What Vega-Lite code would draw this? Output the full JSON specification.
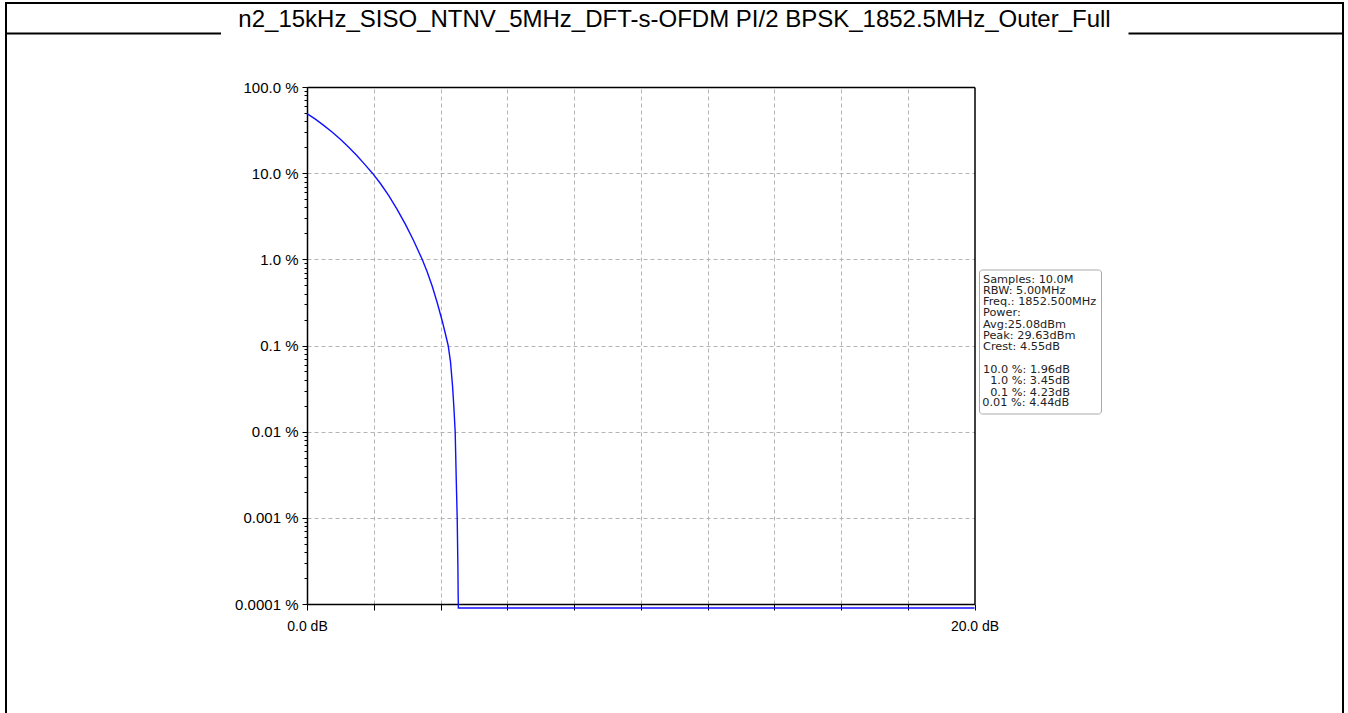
{
  "$schema": "https://vega.github.io/schema/vega-lite/v6.json",
  "background": "white",
  "autosize": {"type": "none"},
  "padding": {"left": 6, "top": 3, "right": 5, "bottom": -10},
  "width": 1337,
  "height": 720,
  "config": {
    "view": {"stroke": "black", "strokeWidth": 2},
    "font": "Liberation Sans",
    "axis": {"labelFont": "Liberation Sans", "labelColor": "black", "domainColor": "black", "tickColor": "black", "titleFont": "Liberation Sans"}
  },
  "title": {
    "text": "n2_15kHz_SISO_NTNV_5MHz_DFT-s-OFDM PI/2 BPSK_1852.5MHz_Outer_Full",
    "font": "Liberation Sans",
    "fontSize": 24,
    "fontWeight": "normal",
    "color": "black",
    "anchor": "middle",
    "orient": "top",
    "offset": 0,
    "dy": 47.5,
    "baseline": "alphabetic"
  },
  "datasets": {
    "ccdf": [
      {"i": 0, "db": 0.0, "pct": 49},
      {"i": 1, "db": 0.25, "pct": 42.3},
      {"i": 2, "db": 0.5, "pct": 35.9},
      {"i": 3, "db": 0.75, "pct": 30.0},
      {"i": 4, "db": 1.0, "pct": 24.7},
      {"i": 5, "db": 1.25, "pct": 19.95},
      {"i": 6, "db": 1.5, "pct": 15.9},
      {"i": 7, "db": 1.75, "pct": 12.4},
      {"i": 8, "db": 1.96, "pct": 10.0},
      {"i": 9, "db": 2.2, "pct": 7.59},
      {"i": 10, "db": 2.45, "pct": 5.48},
      {"i": 11, "db": 2.7, "pct": 3.8},
      {"i": 12, "db": 2.95, "pct": 2.54},
      {"i": 13, "db": 3.2, "pct": 1.63},
      {"i": 14, "db": 3.45, "pct": 1.0},
      {"i": 15, "db": 3.6, "pct": 0.719},
      {"i": 16, "db": 3.75, "pct": 0.49},
      {"i": 17, "db": 3.9, "pct": 0.316},
      {"i": 18, "db": 4.05, "pct": 0.194},
      {"i": 19, "db": 4.15, "pct": 0.135},
      {"i": 20, "db": 4.23, "pct": 0.1},
      {"i": 21, "db": 4.3, "pct": 0.0646},
      {"i": 22, "db": 4.36, "pct": 0.0342},
      {"i": 23, "db": 4.4, "pct": 0.0195},
      {"i": 24, "db": 4.44, "pct": 0.01},
      {"i": 25, "db": 4.47, "pct": 0.003},
      {"i": 26, "db": 4.5, "pct": 0.001},
      {"i": 27, "db": 4.52, "pct": 0.0003},
      {"i": 28, "db": 4.53, "pct": 0.00012},
      {"i": 29, "db": 4.535, "pct": 0.00009},
      {"i": 30, "db": 20.0, "pct": 0.00009}
    ],
    "info": [
      {"info": "0.01 %: 4.44dB"}
    ]
  },
  "resolve": {"scale": {"x": "independent"}, "axis": {"x": "independent", "y": "independent"}},
  "layer": [
    {
      "data": {"name": "ccdf"},
      "mark": {"type": "line", "opacity": 0},
      "encoding": {
        "x": {
          "field": "db", "type": "quantitative",
          "scale": {"domain": [0, 20], "range": [0, 214.5], "nice": false, "zero": false},
          "axis": {"orient": "top", "offset": -30, "grid": false, "ticks": false, "labels": false, "domain": true, "domainWidth": 2, "title": null}
        },
        "y": {
          "field": "pct", "type": "quantitative",
          "scale": {"type": "log", "domain": [0.0001, 100], "range": [601, 84], "nice": false},
          "axis": null
        }
      }
    },
    {
      "data": {"name": "ccdf"},
      "mark": {"type": "line", "opacity": 0},
      "encoding": {
        "x": {
          "field": "db", "type": "quantitative",
          "scale": {"domain": [0, 20], "range": [1122, 1337], "nice": false, "zero": false},
          "axis": {"orient": "top", "offset": -30, "grid": false, "ticks": false, "labels": false, "domain": true, "domainWidth": 2, "title": null}
        },
        "y": {
          "field": "pct", "type": "quantitative",
          "scale": {"type": "log", "domain": [0.0001, 100], "range": [601, 84], "nice": false},
          "axis": null
        }
      }
    },
    {
      "data": {"name": "ccdf"},
      "mark": {"type": "line", "opacity": 0},
      "encoding": {
        "x": {
          "field": "db", "type": "quantitative",
          "scale": {"domain": [0, 20], "range": [301, 968.5], "nice": false, "zero": false},
          "axis": {"orient": "top", "offset": -84, "values": [2, 4, 6, 8, 10, 12, 14, 16, 18], "grid": true, "gridColor": "#b4b4b4", "gridDash": [4, 3], "gridWidth": 1, "ticks": false, "labels": false, "domain": true, "domainWidth": 1.5, "title": null}
        },
        "y": {
          "field": "pct", "type": "quantitative",
          "scale": {"type": "log", "domain": [0.0001, 100], "range": [601, 84], "nice": false},
          "axis": {"orient": "right", "offset": -368.5, "grid": false, "ticks": false, "labels": false, "domain": true, "domainWidth": 1.5, "title": null}
        },
        "order": {"field": "i", "type": "quantitative"}
      }
    },
    {
      "data": {"name": "ccdf"},
      "mark": {"type": "line", "opacity": 0},
      "encoding": {
        "x": {
          "field": "db", "type": "quantitative",
          "scale": {"domain": [0, 20], "range": [301, 968.5], "nice": false, "zero": false},
          "axis": null
        },
        "y": {
          "field": "pct", "type": "quantitative",
          "scale": {"type": "log", "domain": [0.0001, 100], "range": [601, 84], "nice": false},
          "axis": {"orient": "left", "offset": -301, "values": [0.0002, 0.0003, 0.0004, 0.0005, 0.0006, 0.0007, 0.0008, 0.0009, 0.002, 0.003, 0.004, 0.005, 0.006, 0.007, 0.008, 0.009, 0.02, 0.03, 0.04, 0.05, 0.06, 0.07, 0.08, 0.09, 0.2, 0.3, 0.4, 0.5, 0.6, 0.7, 0.8, 0.9, 2, 3, 4, 5, 6, 7, 8, 9, 20, 30, 40, 50, 60, 70, 80, 90], "labels": false, "domain": false, "grid": false, "tickSize": 3, "title": null}
        },
        "order": {"field": "i", "type": "quantitative"}
      }
    },
    {
      "data": {"name": "ccdf"},
      "mark": {"type": "line", "color": "#1010ff", "strokeWidth": 1.4},
      "encoding": {
        "x": {
          "field": "db", "type": "quantitative",
          "scale": {"domain": [0, 20], "range": [301, 968.5], "nice": false, "zero": false},
          "axis": {"orient": "bottom", "offset": -119, "values": [0, 2, 4, 6, 8, 10, 12, 14, 16, 18, 20], "labelExpr": "datum.value == 0 || datum.value == 20 ? format(datum.value, '.1f') + ' dB' : ''", "labelOverlap": false, "labelFlush": false, "grid": false, "tickSize": 6, "labelPadding": 9, "labelFontSize": 14, "domainWidth": 1.5, "title": null}
        },
        "y": {
          "field": "pct", "type": "quantitative",
          "scale": {"type": "log", "domain": [0.0001, 100], "range": [601, 84], "nice": false},
          "axis": {"orient": "left", "offset": -301, "values": [0.0001, 0.001, 0.01, 0.1, 1, 10, 100], "labelExpr": "datum.value >= 1 ? format(datum.value, '.1f') + ' %' : format(datum.value, '.4~f') + ' %'", "labelOverlap": false, "labelFlush": false, "grid": true, "gridColor": "#b4b4b4", "gridDash": [4, 3], "gridWidth": 1, "tickSize": 5, "labelPadding": 4, "labelFontSize": 15, "domainWidth": 1.5, "title": null}
        },
        "order": {"field": "i", "type": "quantitative"}
      }
    },
    {
      "data": {"name": "info"},
      "mark": {"type": "point", "opacity": 0},
      "encoding": {
        "color": {
          "field": "info", "type": "nominal",
          "scale": {"domain": ["0.01 %: 4.44dB"], "range": ["white"]},
          "legend": {
            "orient": "none", "direction": "vertical", "legendX": 973, "legendY": 266.5,
            "title": ["Samples: 10.0M", "RBW: 5.00MHz", "Freq.: 1852.500MHz", "Power:", "Avg:25.08dBm", "Peak: 29.63dBm", "Crest: 4.55dB", "\u200b\u00a0", "10.0 %: 1.96dB", "\u200b\u00a0\u00a01.0 %: 3.45dB", "\u200b\u00a0\u00a00.1 %: 4.23dB"],
            "titleFont": "DejaVu Sans", "titleFontSize": 11.3, "titleFontWeight": "normal", "titleColor": "#222222", "titleLineHeight": 11.3, "titleAnchor": "start", "titleAlign": "left", "titleBaseline": "top", "titleLimit": 400, "titlePadding": 0,
            "labelFont": "DejaVu Sans", "labelFontSize": 11.3, "labelColor": "#222222", "labelLimit": 400, "labelOffset": -12,
            "symbolSize": 0, "symbolStrokeWidth": 0, "symbolOpacity": 0, "rowPadding": 0,
            "padding": 4, "strokeColor": "#aaaaaa", "fillColor": "white", "cornerRadius": 3
          }
        }
      }
    }
  ]
}
